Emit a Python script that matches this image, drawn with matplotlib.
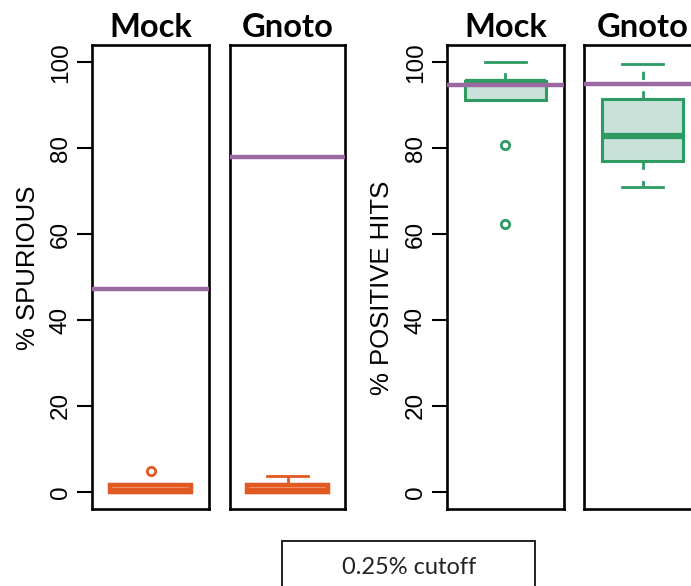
import matplotlib
matplotlib.use('Agg')
import matplotlib.pyplot as plt
from matplotlib.patches import Rectangle

# data
groups = ['Mock', 'Gnoto']

spur_q1 = [0.0, 0.0]
spur_med = [0.2, 0.2]
spur_q3 = [1.6, 1.6]
spur_whislo = [0.0, 0.0]
spur_whishi = [1.6, 3.7]
spur_fliers = [[4.9], []]
spur_ref = [47.3, 78.0]

hits_q1 = [91.3, 77.1]
hits_med = [95.4, 82.9]
hits_q3 = [95.6, 91.4]
hits_whislo = [91.3, 71.0]
hits_whishi = [100.0, 99.5]
hits_fliers = [[80.7, 62.3], []]
hits_ref = [94.7, 95.0]

y_ticks = [0, 20, 40, 60, 80, 100]
cutoff_label = '0.25% cutoff'

ORANGE = '#E05A22'
ORANGE_FILL = '#F3A983'
GREEN = '#2E9B63'
GREEN_FILL = '#C8E2DA'
PURPLE = '#9C68A1'

W, H = 691, 586
fig = plt.figure(figsize=(W / 100, H / 100), dpi=100)


def panel(left_px, right_px, top_px=45, bottom_px=509):
    return fig.add_axes([left_px / W, 1 - bottom_px / H,
                         (right_px - left_px) / W, (bottom_px - top_px) / H])


def draw_box(ax, stat, ref, edge, fill, title, show_axis, box_lw):
    ax.bxp([stat], positions=[1], widths=0.7, capwidths=0.35, patch_artist=True,
           boxprops=dict(facecolor=fill, edgecolor=edge, linewidth=box_lw),
           medianprops=dict(color=edge, linewidth=4.5, solid_capstyle='butt'),
           whiskerprops=dict(color=edge, linewidth=2, linestyle=(0, (3, 4))),
           capprops=dict(color=edge, linewidth=2),
           flierprops=dict(marker='o', markerfacecolor='none', markeredgecolor=edge,
                           markersize=6, markeredgewidth=2))
    ax.axhline(ref, color=PURPLE, lw=3.2, zorder=5)
    ax.set_xlim(0.5, 1.5)
    ax.set_ylim(-4, 104)
    ax.set_xticks([])
    for s in ax.spines.values():
        s.set_linewidth(1.9)
    ax.set_title(title, fontsize=23.5, fontweight='bold', family=['Lato', 'DejaVu Sans'], pad=6)
    if show_axis:
        ax.set_yticks(y_ticks)
        ax.set_yticklabels([str(t) for t in y_ticks], rotation=90, va='center',
                           family=['Liberation Sans', 'DejaVu Sans'], fontsize=17.5)
        ax.tick_params(axis='y', direction='out', length=10.5, width=1.5, pad=4)
    else:
        ax.set_yticks([])


def stats(i, q1, med, q3, lo, hi, fl):
    return dict(q1=q1[i], med=med[i], q3=q3[i], whislo=lo[i], whishi=hi[i], fliers=fl[i])


lefts = [(92, 209), (230, 345)]
rights = [(447, 564), (584, 701)]

for i, g in enumerate(groups):
    ax = panel(*lefts[i])
    draw_box(ax, stats(i, spur_q1, spur_med, spur_q3, spur_whislo, spur_whishi, spur_fliers),
             spur_ref[i], ORANGE, ORANGE_FILL, g, i == 0, 3.2)
    ax = panel(*rights[i])
    draw_box(ax, stats(i, hits_q1, hits_med, hits_q3, hits_whislo, hits_whishi, hits_fliers),
             hits_ref[i], GREEN, GREEN_FILL, g, i == 0, 2.2)

fig.text(28 / W, 1 - 268 / H, '% SPURIOUS', rotation=90, ha='center', va='center',
         fontsize=18.5, family=['Liberation Sans', 'DejaVu Sans'])
fig.text(382 / W, 1 - 288 / H, '% POSITIVE HITS', rotation=90, ha='center', va='center',
         fontsize=18.5, family=['Liberation Sans', 'DejaVu Sans'])

fig.add_artist(Rectangle((282 / W, -0.1), (535 - 282) / W, (586 - 541) / H + 0.1,
                         transform=fig.transFigure, fill=False, lw=1.4, color='#222222'))
fig.text(409 / W, 1 - 567 / H, cutoff_label, ha='center', va='center', fontsize=17,
         family=['Lato', 'DejaVu Sans'], color='#222222')

fig.savefig('out.png', dpi=100)
